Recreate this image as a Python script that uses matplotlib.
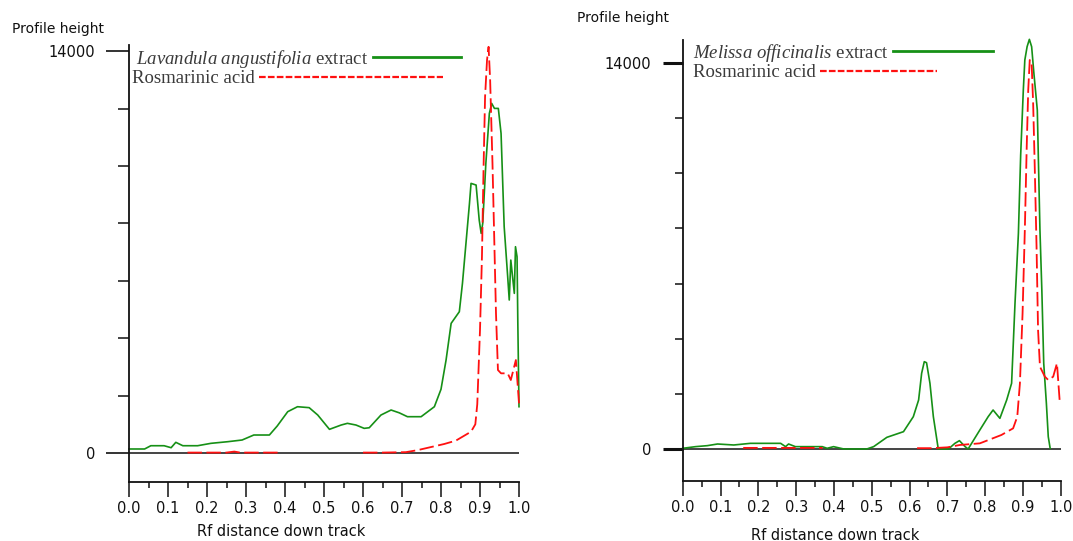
import numpy as np
import matplotlib
matplotlib.use("Agg")
import matplotlib.pyplot as plt

plt.rcParams['mathtext.fontset'] = 'custom'
plt.rcParams['mathtext.rm'] = 'Liberation Serif'
plt.rcParams['mathtext.it'] = 'Liberation Serif:italic'
plt.rcParams['font.family'] = ['DejaVu Sans']

# --- data ---
lav_rf = [0.0, 0.04, 0.056, 0.09, 0.108, 0.12, 0.138, 0.176, 0.21, 0.253, 0.29, 0.32, 0.36, 0.38,
          0.407, 0.432, 0.462, 0.484, 0.514, 0.544, 0.56, 0.582, 0.603, 0.616, 0.646, 0.672, 0.693,
          0.714, 0.749, 0.783, 0.80, 0.813, 0.826, 0.847, 0.855, 0.864, 0.873, 0.877, 0.89, 0.898,
          0.903, 0.907, 0.915, 0.924, 0.930, 0.937, 0.947, 0.954, 0.962, 0.971, 0.975, 0.979, 0.988,
          0.991, 0.995, 0.997, 1.0]
lav_h = [140, 140, 254, 254, 185, 372, 254, 254, 337, 394, 453, 627, 627, 940,
         1440, 1613, 1580, 1323, 825, 975, 1034, 975, 859, 880, 1323, 1498, 1400,
         1265, 1265, 1613, 2220, 3240, 4517, 4923, 5910, 7304, 8697, 9394, 9336, 8116,
         7652, 8000, 10090, 11832, 12180, 12006, 12006, 11135, 7884, 6143, 5330, 6722, 5562,
         7188, 6838, 4517, 1613]

ros1_rf = [0.15, 0.2, 0.25, 0.27, 0.285, 0.30, 0.39, 0.45,
           0.60, 0.65, 0.71, 0.74, 0.808, 0.838, 0.877, 0.888, 0.893, 0.90, 0.905, 0.909, 0.913,
           0.918, 0.922, 0.926, 0.932, 0.937, 0.941, 0.946, 0.954, 0.971, 0.979, 0.992, 1.0]
ros1_h = [15, 15, 15, 50, 15, 15, 15, np.nan,
          15, 15, 30, 100, 313, 430, 743, 1000, 1700, 4284, 6838, 9858, 12412,
          13689, 14153, 12993, 10090, 7188, 4865, 2891, 2776, 2776, 2543, 3240, 1731]

mel_rf = [0.0, 0.034, 0.065, 0.092, 0.135, 0.179, 0.259, 0.272, 0.28, 0.298, 0.369, 0.382, 0.399,
          0.426, 0.487, 0.505, 0.54, 0.584, 0.61, 0.624, 0.632, 0.639, 0.645, 0.654, 0.663, 0.676,
          0.703, 0.72, 0.732, 0.747, 0.755, 0.786, 0.808, 0.821, 0.839, 0.857, 0.87, 0.879, 0.888,
          0.894, 0.901, 0.905, 0.911, 0.917, 0.923, 0.929, 0.938, 0.945, 0.95, 0.955, 0.962, 0.967,
          0.972]
mel_h = [25, 85, 121, 181, 145, 205, 205, 85, 181, 85, 85, 25, 85,
         0, 0, 85, 423, 628, 1172, 1777, 2745, 3167, 3130, 2383, 1172, 0,
         0, 205, 302, 85, 0, 689, 1172, 1414, 1112, 1777, 2383, 5284, 7823,
         10663, 13021, 14109, 14592, 14858, 14592, 13626, 12295, 7943, 5767, 3108, 1657, 446,
         25]

ros2_rf = [0.16, 0.19, 0.27, 0.29, 0.37, 0.45,
           0.62, 0.66, 0.70, 0.733, 0.786, 0.843, 0.874, 0.885, 0.892, 0.899, 0.905, 0.91, 0.914,
           0.918, 0.923, 0.927, 0.931, 0.936, 0.94, 0.945, 0.958, 0.967, 0.98, 0.99, 0.997]
ros2_h = [40, 40, 40, 40, 40, np.nan,
          30, 30, 60, 145, 205, 508, 749, 1172, 2383, 4920, 7943, 10965, 13021,
          14109, 13989, 12537, 10362, 7338, 4316, 2986, 2623, 2503, 2623, 3108, 1777]

x_major = np.arange(0, 1.01, 0.1)
x_minor = np.arange(0.05, 1.0, 0.1)
y_minor = [2000, 4000, 6000, 8000, 10000, 12000]

GREEN = '#169016'
RED = '#ff1010'
TXT = '#3a3a3a'

W, H = 1073, 541
fig = plt.figure(figsize=(W / 100, H / 100), dpi=100)


def fx(px):
    return px / W


def fy(py):
    return 1 - py / H


def panel(rect, ylim, spine_top, green_rf, green_h, red_rf, red_h, maj_len, min_len, maj_w,
          label_green, green_len, red_len, leg1_xy, leg2_xy, leg_size, xlabel_xy, ph_xy):
    ax = fig.add_axes(rect)
    ax.set_xlim(-0.08, 1.02)
    ax.set_ylim(*ylim)
    for s in ['top', 'right']:
        ax.spines[s].set_visible(False)
    ax.spines['left'].set_position(('data', 0))
    ax.spines['left'].set_bounds(ylim[0], spine_top)
    ax.spines['bottom'].set_bounds(0, 1)
    for s in ['left', 'bottom']:
        ax.spines[s].set_linewidth(1.3)
        ax.spines[s].set_color('#111111')

    ax.hlines(0, 0, 1.0, color='#444444', lw=1.4, zorder=1)
    ax.plot(red_rf, red_h, color=RED, lw=1.3, dashes=(8, 2.5), zorder=3)
    ax.plot(green_rf, green_h, color=GREEN, lw=1.2, zorder=2)

    ax.set_yticks([0, 14000])
    ax.set_yticklabels(['0', '14000'])
    ax.set_yticks(y_minor, minor=True)
    ax.tick_params(axis='y', which='major', length=maj_len, width=maj_w, pad=8,
                   labelsize=10.5, colors='#111111')
    ax.tick_params(axis='y', which='minor', length=min_len, width=1.1, color='#111111')
    ax.set_xticks(x_major)
    ax.set_xticklabels(['%.1f' % v for v in x_major])
    ax.set_xticks(x_minor, minor=True)
    ax.tick_params(axis='x', which='major', length=11, width=1.1, pad=3, labelsize=10.5,
                   colors='#111111')
    ax.tick_params(axis='x', which='minor', length=4.5, width=1.1, color='#111111')

    # legend: text first, sample line after
    h1, = ax.plot([], [], color=GREEN, lw=2)
    h2, = ax.plot([], [], color=RED, lw=1.6, dashes=(3, 1))
    leg1 = ax.legend([h1], [label_green], loc='upper left', frameon=False, markerfirst=False,
                     handlelength=green_len, handletextpad=0.25, borderpad=0, borderaxespad=0,
                     bbox_to_anchor=(fx(leg1_xy[0]), fy(leg1_xy[1])), bbox_transform=fig.transFigure,
                     prop={'family': 'Liberation Serif', 'size': leg_size}, labelcolor=TXT)
    ax.add_artist(leg1)
    ax.legend([h2], ['Rosmarinic acid'], loc='upper left', frameon=False, markerfirst=False,
              handlelength=red_len, handletextpad=0.25, borderpad=0, borderaxespad=0,
              bbox_to_anchor=(fx(leg2_xy[0]), fy(leg2_xy[1])), bbox_transform=fig.transFigure,
              prop={'family': 'Liberation Serif', 'size': leg_size}, labelcolor=TXT)

    fig.text(fx(xlabel_xy[0]), fy(xlabel_xy[1]), 'Rf distance down track', ha='center',
             va='center', fontsize=10.5, color='#111111')
    fig.text(fx(ph_xy[0]), fy(ph_xy[1]), 'Profile height', ha='left', va='center',
             fontsize=10, color='#111111')
    return ax


# left panel: Rf 0 at px 129, 1.0 at px 519; 0 at py 453, 14000 at py 51
panel([fx(97.8), fy(482), 429 / W, (482 - 44) / H], (-1010, 14250), 14200,
      lav_rf, lav_h, ros1_rf, ros1_h, 16.5, 8, 1.2,
      r'$\mathit{Lavandula\ angustifolia}$ extract', 4.7, 9.8, (136, 48), (132, 70), 13.5,
      (281, 531), (12, 29))

# right panel: Rf 0 at px 682.7, 1.0 at px 1060.7; 0 at py 449, 14000 at py 63
panel([fx(652.5), fy(481), 415.8 / W, (481 - 38.2) / H], (-1161, 14900), 14830,
      mel_rf, mel_h, ros2_rf, ros2_h, 14.5, 6, 2.2,
      r'$\mathit{Melissa\ officinalis}$ extract', 5.3, 6.2, (693, 42), (693, 64), 13.5,
      (835, 535), (577, 18))

fig.savefig('out.png', dpi=100)
